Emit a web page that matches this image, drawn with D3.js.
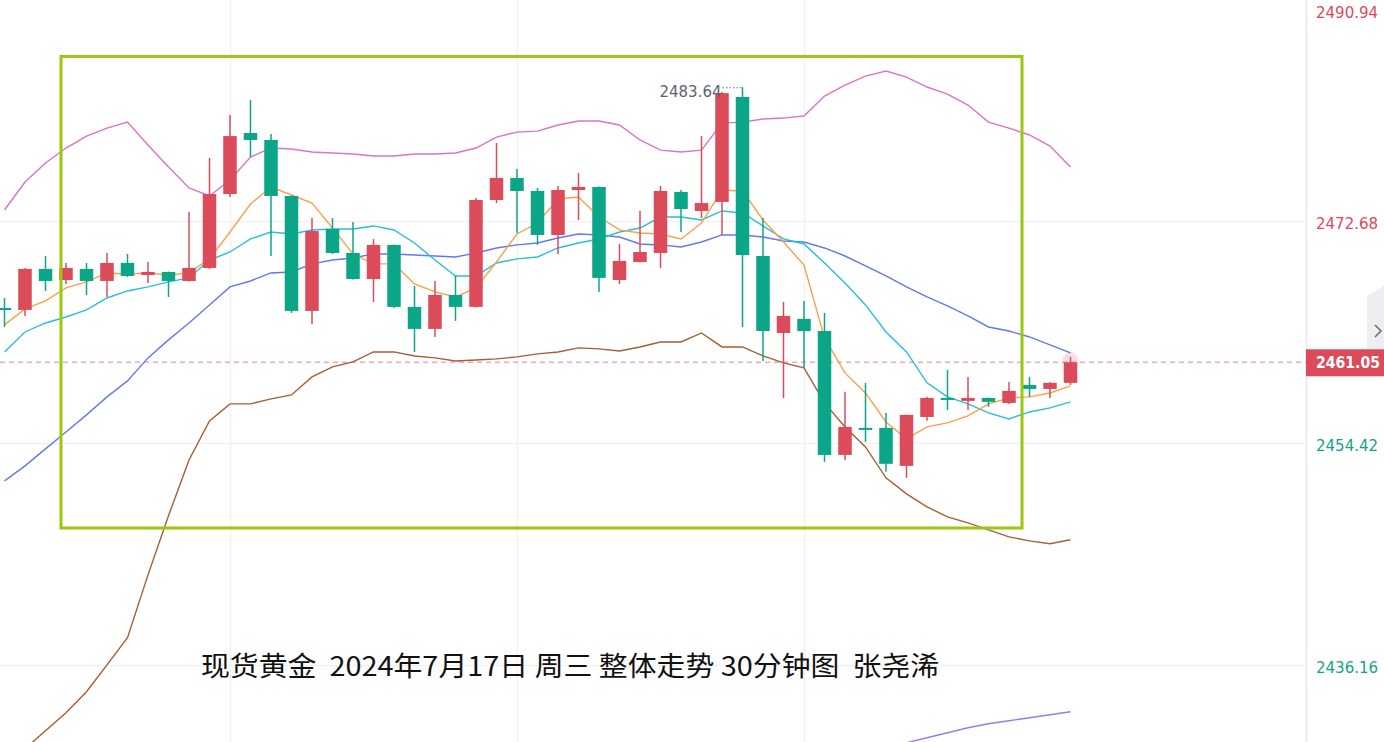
<!DOCTYPE html>
<html>
<head>
<meta charset="utf-8">
<script src="https://cdn.jsdelivr.net/npm/d3@7/dist/d3.min.js"></script>
<style>
  html, body { margin: 0; padding: 0; background: #fff; overflow: hidden; }
  svg { display: block; }
</style>
</head>
<body>
<svg id="chart"></svg>
<script>
var width = 1384;
var height = 742;

// 30 minute candles, gold spot 2024-07-17
var opens  = [2465.51, 2465.35, 2468.72, 2467.81, 2468.72, 2467.73, 2469.21, 2468.22, 2468.47, 2467.73,
              2468.80, 2474.87, 2479.88, 2479.31, 2474.71, 2465.27, 2472.00, 2470.03, 2467.89, 2470.69,
              2465.60, 2463.79, 2466.58, 2465.60, 2474.38, 2476.19, 2475.12, 2471.51, 2475.20, 2475.45,
              2467.81, 2469.29, 2470.03, 2475.04, 2473.48, 2474.22, 2482.84, 2469.78, 2463.46, 2464.61,
              2463.62, 2453.44, 2455.66, 2455.66, 2452.54, 2456.56, 2458.12, 2457.88, 2458.12, 2457.71,
              2459.19, 2458.86, 2459.36];
var highs  = [2466.33, 2468.80, 2469.78, 2469.21, 2469.21, 2470.03, 2469.95, 2469.29, 2468.50, 2473.39,
              2477.83, 2481.36, 2482.59, 2479.80, 2474.75, 2472.90, 2472.90, 2472.57, 2471.18, 2470.72,
              2467.32, 2467.73, 2468.14, 2474.54, 2479.06, 2476.93, 2475.37, 2475.53, 2476.60, 2475.49,
              2470.77, 2473.48, 2475.53, 2475.20, 2479.63, 2483.25, 2483.64, 2472.90, 2466.01, 2466.09,
              2465.10, 2458.62, 2459.36, 2456.89, 2456.75, 2458.21, 2460.42, 2459.85, 2458.15, 2459.44,
              2459.85, 2459.40, 2461.49];
var lows   = [2463.95, 2464.86, 2466.91, 2467.48, 2466.58, 2466.42, 2468.06, 2467.57, 2466.42, 2467.69,
              2468.72, 2474.63, 2477.91, 2469.78, 2465.10, 2464.20, 2469.95, 2467.85, 2466.01, 2465.51,
              2461.90, 2463.13, 2464.45, 2465.55, 2474.13, 2471.67, 2470.69, 2469.95, 2472.74, 2466.83,
              2467.48, 2469.25, 2468.80, 2471.75, 2472.90, 2471.51, 2463.95, 2461.16, 2458.12, 2460.59,
              2452.87, 2453.03, 2454.51, 2452.05, 2451.56, 2456.24, 2457.14, 2457.14, 2457.39, 2457.63,
              2458.21, 2458.12, 2459.19];
var closes = [2465.43, 2468.72, 2467.73, 2468.80, 2467.73, 2469.21, 2468.14, 2468.47, 2467.73, 2468.80,
              2474.87, 2479.63, 2479.31, 2474.71, 2465.27, 2471.83, 2470.03, 2467.89, 2470.69, 2465.60,
              2463.79, 2466.58, 2465.60, 2474.38, 2476.19, 2475.12, 2471.51, 2475.20, 2475.45, 2467.98,
              2469.37, 2470.11, 2475.12, 2473.64, 2474.13, 2483.16, 2469.86, 2463.62, 2464.86, 2463.62,
              2453.44, 2455.74, 2455.50, 2452.71, 2456.73, 2458.12, 2457.96, 2458.12, 2457.80, 2458.70,
              2458.86, 2459.36, 2461.05];

// indicator lines
var ma5  = [2464.12, 2465.43, 2466.09, 2467.16, 2467.65, 2468.39, 2468.30, 2468.39, 2468.22, 2468.39,
            2469.54, 2471.75, 2474.05, 2475.45, 2474.79, 2474.13, 2472.08, 2469.95, 2469.13, 2469.13,
            2467.48, 2466.83, 2466.42, 2467.16, 2469.29, 2471.59, 2472.49, 2474.46, 2474.63, 2472.98,
            2471.92, 2471.67, 2471.59, 2471.18, 2472.49, 2475.20, 2475.12, 2472.74, 2470.93, 2469.04,
            2463.05, 2460.18, 2458.53, 2456.15, 2454.76, 2455.74, 2456.07, 2456.65, 2457.63, 2458.12,
            2458.21, 2458.53, 2459.11];
var ma10 = [2461.90, 2463.54, 2464.28, 2464.77, 2465.35, 2466.33, 2466.91, 2467.24, 2467.65, 2467.98,
            2469.45, 2470.11, 2471.18, 2471.75, 2471.59, 2471.92, 2472.00, 2472.00, 2472.25, 2471.92,
            2470.85, 2469.45, 2468.14, 2468.14, 2469.21, 2469.54, 2469.70, 2470.44, 2470.85, 2471.18,
            2471.75, 2472.08, 2472.98, 2472.98, 2472.74, 2473.48, 2473.31, 2472.25, 2471.18, 2470.77,
            2469.21, 2467.57, 2465.76, 2463.54, 2461.90, 2459.36, 2458.21, 2457.63, 2456.89, 2456.40,
            2456.97, 2457.30, 2457.80];
var ma20 = [2451.31, 2452.54, 2453.94, 2455.33, 2456.73, 2458.21, 2459.52, 2461.41, 2462.89, 2464.28,
            2465.76, 2467.24, 2467.73, 2468.39, 2468.47, 2469.13, 2469.45, 2469.62, 2469.95, 2469.95,
            2469.86, 2469.78, 2469.70, 2470.03, 2470.44, 2470.69, 2470.85, 2471.26, 2471.59, 2471.51,
            2471.34, 2470.77, 2470.69, 2470.52, 2470.93, 2471.51, 2471.51, 2471.34, 2471.01, 2470.93,
            2470.44, 2469.78, 2468.96, 2468.14, 2467.24, 2466.42, 2465.68, 2464.86, 2463.95, 2463.62,
            2463.13, 2462.48, 2461.82];
var upper = [2473.56, 2475.86, 2477.42, 2478.65, 2479.63, 2480.29, 2480.78, 2478.90, 2477.09, 2475.37,
             2474.71, 2476.02, 2477.91, 2478.65, 2478.57, 2478.32, 2478.24, 2478.16, 2477.99, 2477.99,
             2478.16, 2478.16, 2478.24, 2478.65, 2479.55, 2479.96, 2480.04, 2480.54, 2480.87, 2480.87,
             2480.54, 2479.31, 2478.48, 2478.32, 2478.48, 2480.70, 2480.78, 2481.03, 2481.11, 2481.28,
             2482.92, 2483.82, 2484.56, 2484.97, 2484.48, 2483.66, 2483.08, 2482.18, 2480.78, 2480.29,
             2479.72, 2478.81, 2477.09];
var lower = [2427.75, 2429.31, 2430.78, 2432.26, 2433.99, 2436.20, 2438.42, 2443.59, 2448.44, 2453.03,
             2456.24, 2457.63, 2457.63, 2458.04, 2458.37, 2459.85, 2460.67, 2461.08, 2461.90, 2461.90,
             2461.57, 2461.41, 2461.16, 2461.24, 2461.33, 2461.49, 2461.74, 2461.90, 2462.23, 2462.15,
             2461.98, 2462.31, 2462.72, 2462.72, 2463.46, 2462.31, 2462.31, 2461.57, 2461.00, 2460.59,
             2457.71, 2455.74, 2454.10, 2451.56, 2450.24, 2449.18, 2448.35, 2447.86, 2447.29, 2446.71,
             2446.38, 2446.14, 2446.47];
var ma60 = [null, null, null, null, null, null, null, null, null, null,
            null, null, null, null, null, null, null, null, null, null,
            null, null, null, null, null, null, null, null, null, null,
            null, null, null, null, null, null, null, null, null, null,
            null, null, null, null, 2429.80, 2430.21, 2430.62, 2431.03, 2431.36, 2431.61,
            2431.85, 2432.10, 2432.34];

var tickValues = [2490.94, 2472.68, 2454.42, 2436.16];
var lastPrice = 2461.05;
var highLabel = 2483.64;
var highIndex = 36;
var title = "现货黄金  2024年7月17日 周三 整体走势 30分钟图  张尧浠";

var upColor = "#db4b5a";
var downColor = "#0ba687";
var plotRight = 1306;

var data = opens.map(function(o, i) {
  return { i: i, open: o, high: highs[i], low: lows[i], close: closes[i] };
});

var xScale = d3.scaleLinear()
  .domain([0, data.length - 1])
  .range([4.5, 1070.5]);

var yScale = d3.scaleLinear()
  .domain([2472.68, 2436.16])
  .range([220.7, 665.3]);

var bodyWidth = 13.5;

var svg = d3.select("#chart")
  .attr("width", width)
  .attr("height", height)
  .style("font-family", "'DejaVu Sans', sans-serif");

svg.append("defs").append("clipPath")
  .attr("id", "plot-clip")
  .append("rect")
  .attr("x", 0).attr("y", 0)
  .attr("width", plotRight).attr("height", height);

// grid
var grid = svg.append("g").attr("class", "grid");

grid.selectAll("line.h")
  .data(tickValues.slice(1))
  .enter().append("line")
  .attr("x1", 0).attr("x2", plotRight)
  .attr("y1", function(d) { return Math.round(yScale(d)) + 0.5; })
  .attr("y2", function(d) { return Math.round(yScale(d)) + 0.5; })
  .attr("stroke", "#f1f1f4")
  .attr("stroke-width", 1.5);

grid.selectAll("line.v")
  .data([11, 25, 39])
  .enter().append("line")
  .attr("x1", function(d) { return xScale(d) + 0.5; })
  .attr("x2", function(d) { return xScale(d) + 0.5; })
  .attr("y1", 0).attr("y2", height)
  .attr("stroke", "#f1f1f4")
  .attr("stroke-width", 1.5);

// axis separator
svg.append("line")
  .attr("x1", plotRight + 0.5).attr("x2", plotRight + 0.5)
  .attr("y1", 0).attr("y2", height)
  .attr("stroke", "#ececf1")
  .attr("stroke-width", 2);

var plot = svg.append("g").attr("clip-path", "url(#plot-clip)");

// last price dashed line
plot.append("line")
  .attr("x1", 0).attr("x2", plotRight)
  .attr("y1", yScale(lastPrice)).attr("y2", yScale(lastPrice))
  .attr("stroke", "#f3a9b1")
  .attr("stroke-width", 1.5)
  .attr("stroke-dasharray", "5,4");

// indicator lines
var lineSeries = [
  { values: lower, color: "#a85e33" },
  { values: ma60, color: "#9a7ce6" },
  { values: upper, color: "#d874c9" },
  { values: ma20, color: "#6279f0" },
  { values: ma10, color: "#27bfdc" },
  { values: ma5, color: "#fca04a" }
];

var line = d3.line()
  .defined(function(d) { return d != null; })
  .x(function(d, i) { return xScale(i); })
  .y(function(d) { return yScale(d); });

plot.selectAll("path.ind")
  .data(lineSeries)
  .enter().append("path")
  .attr("class", "ind")
  .attr("fill", "none")
  .attr("stroke", function(d) { return d.color; })
  .attr("stroke-width", 1.4)
  .attr("d", function(d) { return line(d.values); });

// candles
var candle = plot.selectAll("g.candle")
  .data(data)
  .enter().append("g")
  .attr("class", "candle");

function candleColor(d) {
  return d.close >= d.open ? upColor : downColor;
}

candle.append("line")
  .attr("x1", function(d) { return xScale(d.i); })
  .attr("x2", function(d) { return xScale(d.i); })
  .attr("y1", function(d) { return yScale(d.high); })
  .attr("y2", function(d) { return yScale(d.low); })
  .attr("stroke", candleColor)
  .attr("stroke-width", 1.5);

candle.append("rect")
  .attr("x", function(d) { return xScale(d.i) - bodyWidth / 2; })
  .attr("y", function(d) { return yScale(Math.max(d.open, d.close)); })
  .attr("width", bodyWidth)
  .attr("height", function(d) {
    return Math.max(2, Math.abs(yScale(d.open) - yScale(d.close)));
  })
  .attr("fill", candleColor);

// glow on the live candle
var last = data[data.length - 1];
plot.append("circle")
  .attr("cx", xScale(last.i))
  .attr("cy", yScale(last.close) - 2)
  .attr("r", 8)
  .attr("fill", upColor)
  .attr("fill-opacity", 0.18);

// high marker
var hx = xScale(highIndex);
var hy = yScale(highLabel);
svg.append("line")
  .attr("x1", hx - 20).attr("x2", hx - 1)
  .attr("y1", hy + 0.5).attr("y2", hy + 0.5)
  .attr("stroke", "#6a6d78")
  .attr("stroke-width", 1)
  .attr("stroke-dasharray", "1.5,2");
svg.append("text")
  .attr("x", hx - 21)
  .attr("y", hy + 10)
  .attr("text-anchor", "end")
  .attr("font-size", 15)
  .attr("fill", "#60636e")
  .text(highLabel.toFixed(2));

// annotation box
svg.append("rect")
  .attr("x", 61).attr("y", 56.5)
  .attr("width", 961).attr("height", 471.5)
  .attr("fill", "none")
  .attr("stroke", "#9ac80c")
  .attr("stroke-width", 3);

// right axis labels
svg.selectAll("text.tick")
  .data(tickValues)
  .enter().append("text")
  .attr("class", "tick")
  .attr("x", plotRight + 10)
  .attr("y", function(d) { return Math.max(18, yScale(d) + 8); })
  .attr("font-size", 15)
  .attr("fill", function(d) { return d > lastPrice ? "#e0485a" : "#11a588"; })
  .text(function(d) { return d.toFixed(2); });

// collapse tab
svg.append("path")
  .attr("d", "M1367,296 L1384,286 L1384,376 L1367,376 Z")
  .attr("fill", "#eeeef2");
svg.append("path")
  .attr("d", "M1375,325 L1381,331 L1375,337")
  .attr("fill", "none")
  .attr("stroke", "#6b6e78")
  .attr("stroke-width", 1.6);

// last price tag
var ly = yScale(lastPrice);
svg.append("rect")
  .attr("x", plotRight).attr("y", ly - 13)
  .attr("width", width - plotRight).attr("height", 27)
  .attr("fill", upColor);
svg.append("text")
  .attr("x", plotRight + 10)
  .attr("y", ly + 6)
  .attr("font-size", 15)
  .attr("font-weight", 600)
  .attr("fill", "#fff")
  .attr("textLength", 64)
  .attr("lengthAdjust", "spacingAndGlyphs")
  .text(lastPrice.toFixed(2));

// caption
svg.append("text")
  .attr("x", 201)
  .attr("y", 676)
  .attr("font-family", "'Noto Sans CJK SC', sans-serif")
  .attr("font-size", 27)
  .attr("fill", "#111")
  .attr("textLength", 738)
  .attr("lengthAdjust", "spacingAndGlyphs")
  .style("white-space", "pre")
  .text(title);
</script>
</body>
</html>
